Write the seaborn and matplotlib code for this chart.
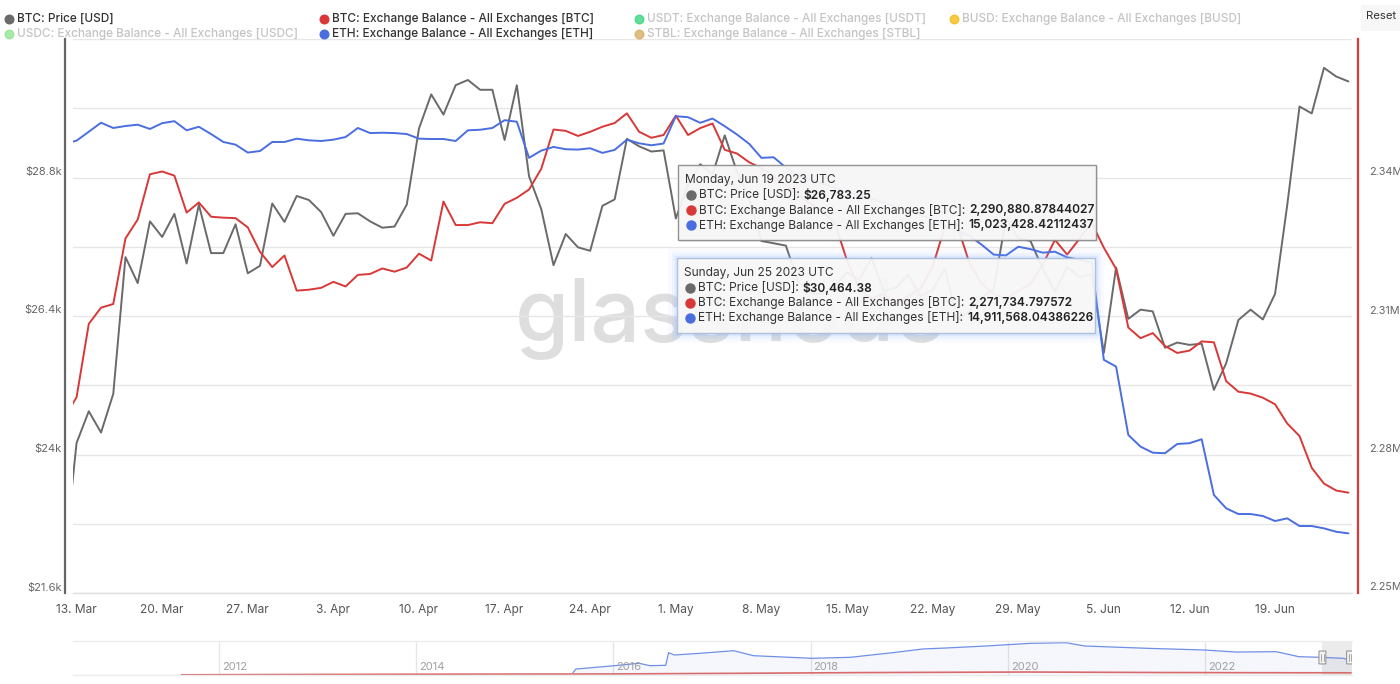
import numpy as np
import pandas as pd
import matplotlib
matplotlib.use("Agg")
import matplotlib.pyplot as plt
import matplotlib.transforms as mtransforms
from matplotlib.patches import Rectangle, FancyBboxPatch
from matplotlib.lines import Line2D
import seaborn as sns

sns.set_theme(style="white")
plt.rcParams['font.family'] = ['Inter', 'DejaVu Sans']

# ---------------- data ----------------
start_date = "2023-03-12"
btc_price_usd = [
    22160, 24200, 24750, 24380, 25050, 27420, 26970, 28040, 27770, 28170,
    27310, 28330, 27490, 27490, 27990, 27140, 27270, 28350, 28030, 28480,
    28410, 28200, 27790, 28170, 28180, 28040, 27930, 27950, 28330, 29650,
    30240, 29890, 30400, 30490, 30320, 30320, 29450, 30400, 28820, 28250,
    27280, 27820, 27590, 27530, 28310, 28420, 29470, 29340, 29250, 29270,
    28090, 28680, 29030, 28850, 29530, 28900, 28450, 27700, 27660, 27620,
    26990, 26800, 26790, 26920, 27160, 27030, 27400, 26830, 26890, 27120,
    26750, 26850, 27230, 26330, 26480, 26720, 26870, 28090, 27750, 27700,
    27220, 26820, 27250, 27080, 27120, 25760, 27240, 26350, 26510, 26480,
    25850, 25940, 25900, 25920, 25120, 25580, 26330, 26510, 26340, 26783.25,
    28330, 30030, 29910, 30700, 30550, 30464.38,
]
btc_balance_k = [
    2288.0, 2292.4, 2308.3, 2311.8, 2312.6, 2326.8, 2330.9, 2340.7, 2341.3, 2340.4,
    2332.4, 2334.6, 2331.5, 2331.3, 2331.2, 2329.2, 2323.9, 2320.6, 2323.1, 2315.5,
    2315.7, 2316.1, 2317.4, 2316.4, 2318.9, 2319.1, 2320.3, 2319.6, 2320.5, 2323.5,
    2322.0, 2334.8, 2329.7, 2329.7, 2330.3, 2330.1, 2334.3, 2335.6, 2337.4, 2341.9,
    2350.4, 2350.1, 2349.0, 2349.9, 2351.0, 2351.8, 2353.9, 2349.9, 2348.6, 2349.2,
    2353.4, 2349.2, 2350.7, 2351.7, 2346.0, 2345.2, 2343.3, 2342.0, 2340.2, 2338.5,
    2336.3, 2334.3, 2332.6, 2330.2, 2322.0, 2315.9, 2313.7, 2314.8, 2312.6, 2314.3,
    2315.9, 2320.7, 2329.3, 2329.8, 2321.5, 2317.0, 2314.8, 2313.7, 2315.4, 2317.0,
    2321.1, 2326.5, 2323.3, 2326.7, 2330.2, 2324.8, 2320.2, 2307.5, 2305.2, 2306.3,
    2303.5, 2302.0, 2302.5, 2304.5, 2304.3, 2295.9, 2293.6, 2293.2, 2292.3, 2290.88087844027,
    2286.7, 2284.0, 2277.1, 2273.7, 2272.2, 2271.734797572,
]
eth_balance_m = [
    18.450, 18.477, 18.558, 18.640, 18.592, 18.610, 18.622, 18.583, 18.636, 18.654,
    18.571, 18.603, 18.537, 18.465, 18.441, 18.369, 18.383, 18.465, 18.465, 18.495,
    18.480, 18.474, 18.486, 18.510, 18.592, 18.546, 18.549, 18.546, 18.537, 18.495,
    18.492, 18.492, 18.474, 18.571, 18.576, 18.592, 18.663, 18.649, 18.321, 18.387,
    18.420, 18.399, 18.396, 18.408, 18.366, 18.393, 18.486, 18.453, 18.435, 18.451,
    18.699, 18.690, 18.639, 18.678, 18.608, 18.533, 18.448, 18.321, 18.326, 18.233,
    18.169, 18.123, 18.087, 18.051, 18.014, 17.978, 17.951, 17.914, 17.878, 17.842,
    17.805, 17.760, 17.705, 17.660, 17.614, 17.533, 17.442, 17.435, 17.514, 17.492,
    17.460, 17.469, 17.417, 17.396, 17.369, 16.487, 16.426, 15.805, 15.699, 15.644,
    15.639, 15.723, 15.730, 15.766, 15.260, 15.139, 15.087, 15.087, 15.069, 15.023428421,
    15.048, 14.978, 14.978, 14.957, 14.926, 14.911568044,
]

price_ticks = [21600, 22800, 24000, 25200, 26400, 27600, 28800, 30000, 31200]
price_label_values = [21600, 24000, 26400, 28800]
price_label_texts = ["$21.6k", "$24k", "$26.4k", "$28.8k"]
balance_label_values = [2.25e6, 2.28e6, 2.31e6, 2.34e6]
balance_label_texts = ["2.25M", "2.28M", "2.31M", "2.34M"]

# navigator (long history)
nav_eth_years = [2015.59, 2015.62, 2015.98, 2016.26, 2016.37, 2016.53, 2016.56, 2016.62,
                 2016.88, 2017.22, 2017.42, 2018.01, 2018.40, 2018.83, 2019.14, 2019.37,
                 2019.78, 2020.23, 2020.59, 2020.78, 2021.41, 2022.00, 2022.31, 2022.72,
                 2022.95, 2023.17, 2023.40, 2023.48]
nav_eth_m = [2.4, 6.2, 9.4, 12.2, 9.7, 10.1, 23.2, 20.8, 22.6, 25.3, 20.1, 17.4, 18.4, 23.2,
             27.1, 28.1, 30.2, 33.0, 33.6, 30.2, 27.8, 26.0, 23.9, 24.3, 19.1, 18.4, 17.4, 14.9]
nav_btc_years = [2011.62, 2013.0, 2014.5, 2016.0, 2017.5, 2018.5, 2020.2, 2021.5, 2022.5, 2023.48]
nav_btc_m = [0.2, 0.6, 0.9, 1.1, 1.9, 2.5, 3.1, 2.6, 2.4, 2.27]
nav_year_labels = [2012, 2014, 2016, 2018, 2020, 2022]

legend_items = [
    ("BTC: Price [USD]", "#6a6a6a", True),
    ("BTC: Exchange Balance - All Exchanges [BTC]", "#d93838", True),
    ("USDT: Exchange Balance - All Exchanges [USDT]", "#2fd47c", False),
    ("BUSD: Exchange Balance - All Exchanges [BUSD]", "#f2b90c", False),
    ("USDC: Exchange Balance - All Exchanges [USDC]", "#8be38b", False),
    ("ETH: Exchange Balance - All Exchanges [ETH]", "#4a6ee0", True),
    ("STBL: Exchange Balance - All Exchanges [STBL]", "#d5aa5a", False),
]

dates = pd.date_range(start_date, periods=len(btc_price_usd), freq="D")
df = pd.DataFrame({
    "date": dates,
    "price": btc_price_usd,
    "btc_bal": np.array(btc_balance_k) * 1000.0,
    "eth_bal": np.array(eth_balance_m) * 1e6,
})

C_GRAY, C_RED, C_BLUE = "#6a6a6a", "#d93838", "#4a6ee0"

# ---------------- layout ----------------
W, H = 1400, 684
fig = plt.figure(figsize=(14, 6.84), dpi=100)
fig.patch.set_facecolor("white")


def fx(px):
    return px / W


def fy(py):
    return 1 - py / H


L, R, T, B = 73, 1352, 39, 593
ax = fig.add_axes([fx(L), fy(B), fx(R) - fx(L), fy(T) - fy(B)])
ax2 = ax.twinx()
ax3 = ax.twinx()

sns.lineplot(data=df, x="date", y="price", ax=ax, color=C_GRAY, lw=1.4, legend=False, zorder=3)
sns.lineplot(data=df, x="date", y="btc_bal", ax=ax2, color=C_RED, lw=1.4, legend=False, zorder=3)
sns.lineplot(data=df, x="date", y="eth_bal", ax=ax3, color=C_BLUE, lw=1.4, legend=False, zorder=3)

x0 = pd.Timestamp("2023-03-13") - pd.Timedelta(hours=7)
x1 = pd.Timestamp("2023-06-25") + pd.Timedelta(hours=7)
ax.set_xlim(x0, x1)
ax.set_ylim(21600, 31200)
ax2.set_ylim(2.25e6, 2.37e6)
ax3.set_ylim(14.37e6, 19.40e6)

for a in (ax, ax2, ax3):
    a.set_xlabel("")
    a.set_ylabel("")

# grid + y labels (labels sit slightly above their grid lines)
ax.set_yticks(price_ticks)
ax.set_yticklabels([])
ax.yaxis.grid(True, color="#e6e6e6", lw=1.0)
ax.xaxis.grid(False)
ax.tick_params(axis="y", length=0)
ax2.set_yticks([])
ax2.grid(False)
ax3.set_yticks([])
ax3.grid(False)

lift = mtransforms.ScaledTranslation(0, 5.5 / 100, fig.dpi_scale_trans)
tr_left = mtransforms.blended_transform_factory(ax.transAxes, ax.transData) + lift
tr_right = mtransforms.blended_transform_factory(ax2.transAxes, ax2.transData) + lift
for v, s in zip(price_label_values, price_label_texts):
    ax.text(-(L - 62) / (R - L), v, s, transform=tr_left, ha="right", va="center",
            fontsize=8.0, color="#666666", clip_on=False)
for v, s in zip(balance_label_values, balance_label_texts):
    ax2.text(1 + (1369 - R) / (R - L), v, s, transform=tr_right, ha="left", va="center",
             fontsize=7.8, color="#666666", clip_on=False)

xt = pd.date_range("2023-03-13", "2023-06-19", freq="7D")
ax.set_xticks(xt)
ax.set_xticklabels([f"{d.day}. {d.strftime('%b')}" for d in xt])
ax.tick_params(axis="x", length=5, width=1, color="#dde3ef", pad=3, labelsize=8.6, labelcolor="#555555")

for a in (ax, ax2, ax3):
    for s in a.spines.values():
        s.set_visible(False)
ax.spines["left"].set_visible(True)
ax.spines["left"].set_color("#666666")
ax.spines["left"].set_linewidth(1.6)
ax.spines["left"].set_position(("outward", 6))
ax.spines["bottom"].set_visible(True)
ax.spines["bottom"].set_color("#e0e0e0")
ax.spines["bottom"].set_linewidth(1.0)
ax2.spines["right"].set_visible(True)
ax2.spines["right"].set_color(C_RED)
ax2.spines["right"].set_linewidth(1.6)
ax2.spines["right"].set_position(("outward", 4))

# watermark
ax.text(0.514, 0.455, "glassnode", transform=ax.transAxes, ha="center", va="baseline",
        fontsize=63, color="#dedede", fontweight="medium", zorder=0.5)

# ---------------- navigator ----------------
nav = fig.add_axes([fx(L), fy(675), fx(R) - fx(L), fy(641) - fy(675)])
nav.set_xlim(2010.52, 2023.49)
nav.set_ylim(0, 35.4)
nav.fill_between(nav_eth_years, nav_eth_m, 0, color=C_BLUE, alpha=0.05, lw=0)
sns.lineplot(x=nav_eth_years, y=nav_eth_m, ax=nav, color="#6f8fe6", lw=0.9, legend=False)
sns.lineplot(x=nav_btc_years, y=nav_btc_m, ax=nav, color="#d96a6a", lw=1.2, legend=False)
for yr in nav_year_labels:
    nav.axvline(yr, color="#e6e6e6", lw=1, zorder=0)
    nav.text(yr + 0.03, 3.2, str(yr), fontsize=8, color="#a0a0a0", ha="left", va="bottom")
nav.set_xticks([])
nav.set_yticks([])
for k, s in nav.spines.items():
    s.set_visible(k in ("top", "bottom"))
    s.set_color("#ececec")
    s.set_linewidth(1)
nav.axvspan(2023.19, 2023.49, color="#666666", alpha=0.13, lw=0)
for hx in (2023.19, 2023.47):
    nav.add_patch(FancyBboxPatch((hx - 0.035, 11.5), 0.07, 13.5,
                                 boxstyle="round,pad=0,rounding_size=0.02",
                                 fc="#f2f2f2", ec="#999999", lw=0.8, zorder=5, mutation_aspect=10))
    nav.plot([hx - 0.012, hx - 0.012], [15, 21.5], color="#999999", lw=0.6, zorder=6)
    nav.plot([hx + 0.012, hx + 0.012], [15, 21.5], color="#999999", lw=0.6, zorder=6)

# ---------------- legend ----------------
col_x = [9, 324, 639, 954]
row_y = [19, 34]
positions = [(0, 0), (1, 0), (2, 0), (3, 0), (0, 1), (1, 1), (2, 1)]
for (label, color, active), (c, r) in zip(legend_items, positions):
    x, y = col_x[c], row_y[r]
    fig.add_artist(Line2D([fx(x)], [fy(y)], marker="o", markersize=6.2, color=color,
                          alpha=1.0 if active else 0.75, transform=fig.transFigure, lw=0))
    fig.text(fx(x + 8), fy(y), label, fontsize=8.5, fontweight="medium",
             color="#333333" if active else "#c4c4c4", va="center", ha="left")

# reset button
fig.add_artist(Rectangle((fx(1361), fy(31)), fx(1400) - fx(1361), fy(5) - fy(31),
                         transform=fig.transFigure, fc="#f7f7f7", ec="none"))
fig.text(fx(1381), fy(16), "Reset", fontsize=8.2, color="#333333", ha="center", va="center")

# ---------------- tooltips ----------------
renderer = fig.canvas.get_renderer()
TFS = 8.6


def tooltip(bx0, by0, bx1, by1, header, rows, edge, glow=False):
    if glow:
        for g, a in ((5, 0.05), (3, 0.09), (1.5, 0.16)):
            fig.add_artist(Rectangle((fx(bx0 - g), fy(by1 + g)), fx(bx1 + g) - fx(bx0 - g),
                                     fy(by0 - g) - fy(by1 + g), transform=fig.transFigure,
                                     fc="none", ec="#7fb0ff", lw=g * 1.2, alpha=a, zorder=9))
    else:
        fig.add_artist(Rectangle((fx(bx0 + 2), fy(by1 + 2)), fx(bx1) - fx(bx0),
                                 fy(by0) - fy(by1), transform=fig.transFigure,
                                 fc="#000000", ec="none", alpha=0.08, zorder=9))
    fig.add_artist(Rectangle((fx(bx0), fy(by1)), fx(bx1) - fx(bx0), fy(by0) - fy(by1),
                             transform=fig.transFigure, fc="#f7f7f7", ec=edge, lw=1.0,
                             alpha=0.95, zorder=10))
    tx = bx0 + 7
    fig.text(fx(tx), fy(by0 + 15), header, fontsize=TFS, color="#333333", va="center",
             ha="left", zorder=11)
    for i, (color, label, value) in enumerate(rows):
        yy = by0 + 30 + 15 * i
        fig.add_artist(Line2D([fx(tx + 6)], [fy(yy)], marker="o", markersize=6.5, color=color,
                              transform=fig.transFigure, lw=0, zorder=11))
        t = fig.text(fx(tx + 14), fy(yy), label, fontsize=TFS, color="#333333", va="center",
                     ha="left", zorder=11)
        bb = t.get_window_extent(renderer=renderer)
        fig.text((bb.x1 + 4) / W, fy(yy), value, fontsize=TFS, color="#222222", va="center",
                 ha="left", fontweight="semibold", zorder=11)


tooltip(678, 165, 1096, 240, "Monday, Jun 19 2023 UTC",
        [(C_GRAY, "BTC: Price [USD]:", "$26,783.25"),
         (C_RED, "BTC: Exchange Balance - All Exchanges [BTC]:", "2,290,880.87844027"),
         (C_BLUE, "ETH: Exchange Balance - All Exchanges [ETH]:", "15,023,428.42112437")],
        edge="#8c8c8c")
tooltip(677, 258, 1095, 333, "Sunday, Jun 25 2023 UTC",
        [(C_GRAY, "BTC: Price [USD]:", "$30,464.38"),
         (C_RED, "BTC: Exchange Balance - All Exchanges [BTC]:", "2,271,734.797572"),
         (C_BLUE, "ETH: Exchange Balance - All Exchanges [ETH]:", "14,911,568.04386226")],
        edge="#a9bedb", glow=True)

fig.savefig("out.png", dpi=100)
